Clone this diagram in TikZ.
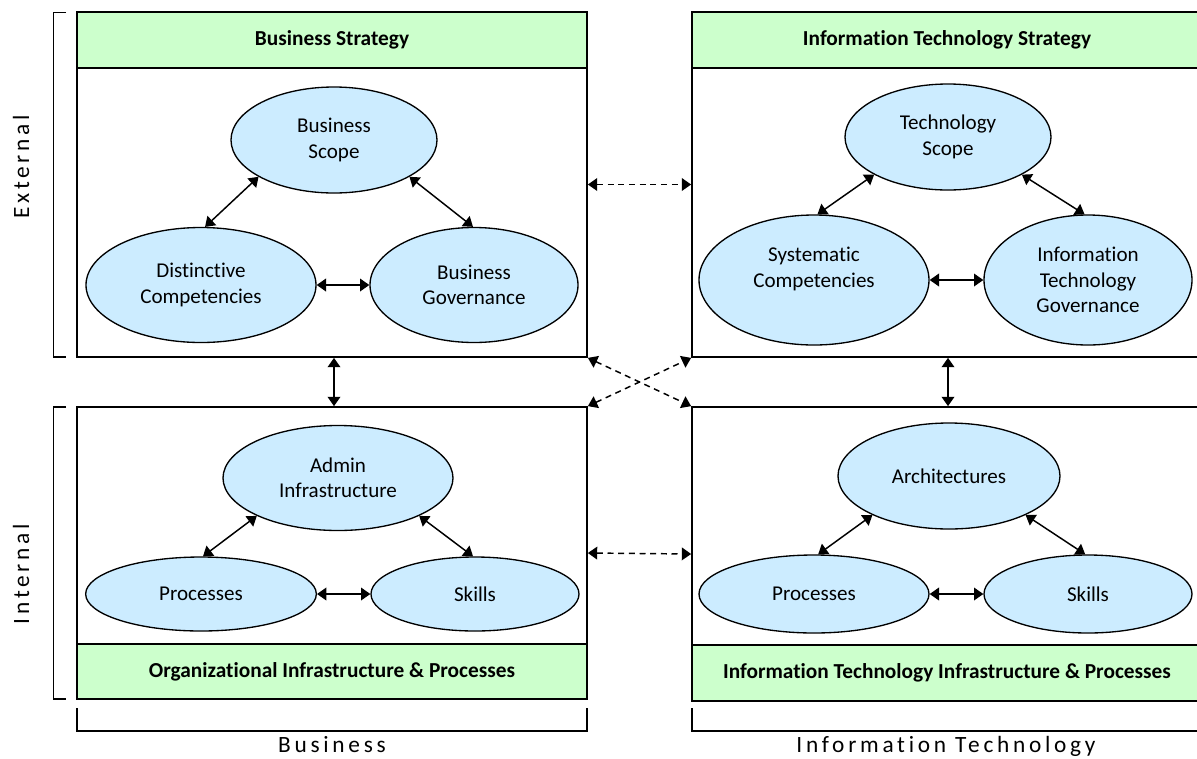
\documentclass[tikz,border=0pt]{standalone}
\usepackage{fontspec}
\setmainfont[RawFeature={-liga}]{Carlito}
\newfontfamily\spacedfont[LetterSpace=16,RawFeature={-liga}]{Carlito}
\usetikzlibrary{shapes.geometric,arrows.meta,fit}
\definecolor{hdrgreen}{HTML}{CCFFCC}
\definecolor{ellblue}{HTML}{CCECFF}
\begin{document}
\begin{tikzpicture}[x=0.75pt,y=-0.75pt,
  box/.style={draw, line width=1.3pt, inner sep=0pt},
  hdr/.style={draw, line width=1.3pt, fill=hdrgreen, inner sep=0pt},
  hdrtext/.style={font=\fontsize{16}{19}\selectfont\bfseries, inner sep=0pt},
  ell/.style={ellipse, draw, line width=1pt, fill=ellblue, inner sep=0pt, align=center, font=\fontsize{15.8}{19}\selectfont},
  arr/.style={{Triangle[length=7pt,width=9.5pt]}-{Triangle[length=7pt,width=9.5pt]}, line width=1.1pt},
  darr/.style={arr, dash pattern=on 4.5pt off 3.5pt},
  brk/.style={line width=0.9pt},
  side/.style={font=\spacedfont\fontsize{17.5}{20}\selectfont, inner sep=0pt}
]
\useasboundingbox (0,0) rectangle (1197,758);
\clip (0,0) rectangle (1197,758);

% boxes
\node[box, fit={(77,12)(587,357)}] (TL) {};
\node[hdr, fit={(77,12)(587,68)}] (TLh) {};
\node[hdrtext] (TLt) at (TLh.center) {Business Strategy};
\node[box, fit={(692,12)(1202,357)}] (TR) {};
\node[hdr, fit={(692,12)(1202,68)}] (TRh) {};
\node[hdrtext] (TRt) at (TRh.center) {Information Technology Strategy};
\node[box, fit={(77,407)(587,699)}] (BL) {};
\node[hdr, fit={(77,644)(587,699)}] (BLf) {};
\node[hdrtext] (BLt) at (BLf.center) {Organizational Infrastructure \& Processes};
\node[box, fit={(692,407)(1202,701)}] (BR) {};
\node[hdr, fit={(692,645)(1202,701)}] (BRf) {};
\node[hdrtext] (BRt) at (BRf.center) {Information Technology Infrastructure \& Processes};

% ellipses top-left
\node[ell, minimum width=154.5pt, minimum height=79.5pt] (scope) at (334,140) {Business\\Scope};
\node[ell, minimum width=172.5pt, minimum height=86.25pt] (dist) at (201,285) {Distinctive\\Competencies};
\node[ell, minimum width=156pt, minimum height=86.25pt] (gov) at (474,285) {Business\\Governance};
% ellipses top-right
\node[ell, minimum width=154.5pt, minimum height=79.5pt] (ts) at (948,137) {Technology\\Scope};
\node[ell, minimum width=172.5pt, minimum height=97.5pt] (sc) at (814,280) {Systematic\\Competencies\\\phantom{x}};
\node[ell, minimum width=156pt, minimum height=97.5pt] (itg) at (1088,280) {Information\\Technology\\Governance};
% ellipses bottom-left
\node[ell, minimum width=172.5pt, minimum height=78.75pt] (ai) at (338,478) {Admin\\Infrastructure};
\node[ell, minimum width=173pt, minimum height=55.5pt] (proc1) at (201,594) {Processes};
\node[ell, minimum width=156pt, minimum height=55.5pt] (sk1) at (475,594) {Skills};
% ellipses bottom-right
\node[ell, minimum width=166.5pt, minimum height=79.5pt] (arch) at (949,476) {Architectures};
\node[ell, minimum width=172.5pt, minimum height=58.5pt] (proc2) at (814,594) {Processes};
\node[ell, minimum width=156pt, minimum height=58.5pt] (sk2) at (1088,594) {Skills};

% arrows within boxes
\draw[arr] (scope.206) -- (dist.86);
\draw[arr] (scope.334) -- (gov.91);
\draw[arr] (dist.east) -- (gov.west);
\draw[arr] (ts.207) -- (sc.87);
\draw[arr] (ts.333) -- (itg.93);
\draw[arr] (sc.east) -- (itg.west);
\draw[arr] (ai.205) -- (proc1.87);
\draw[arr] (ai.335) -- (sk1.93);
\draw[arr] (proc1.east) -- (sk1.west);
\draw[arr] (arch.207) -- (proc2.84);
\draw[arr] (arch.333) -- (sk2.94);
\draw[arr] (proc2.east) -- (sk2.west);

% arrows between boxes
\draw[arr] (TL.south -| scope) -- (BL.north -| scope);
\draw[arr] (TR.south -| ts) -- (BR.north -| ts);
\draw[darr] (TL.east) -- (TR.west);
\draw[darr] (BL.east) -- (BR.west);
\draw[darr] (TL.south east) -- (BR.north west);
\draw[darr] (BL.north east) -- (TR.south west);

% brackets
\draw[brk] (66,12.7) -- (53.6,12.7) -- (53.6,357) -- (66,357);
\draw[brk] (66,407) -- (53.6,407) -- (53.6,699) -- (66,699);
\draw[brk] (77,708) -- (77,731) -- (587,731) -- (587,708);
\draw[brk] (692,708) -- (692,731) -- (1210,731);

% side labels
\node[side, rotate=90] (ext) at (21,167) {External};
\node[side, rotate=90] (int) at (21,574) {Internal};
\node[side, anchor=base] (bus) at (332,752) {Business};
\node[side, anchor=base] (it) at (946,752) {Information Technology};
\end{tikzpicture}
\end{document}
